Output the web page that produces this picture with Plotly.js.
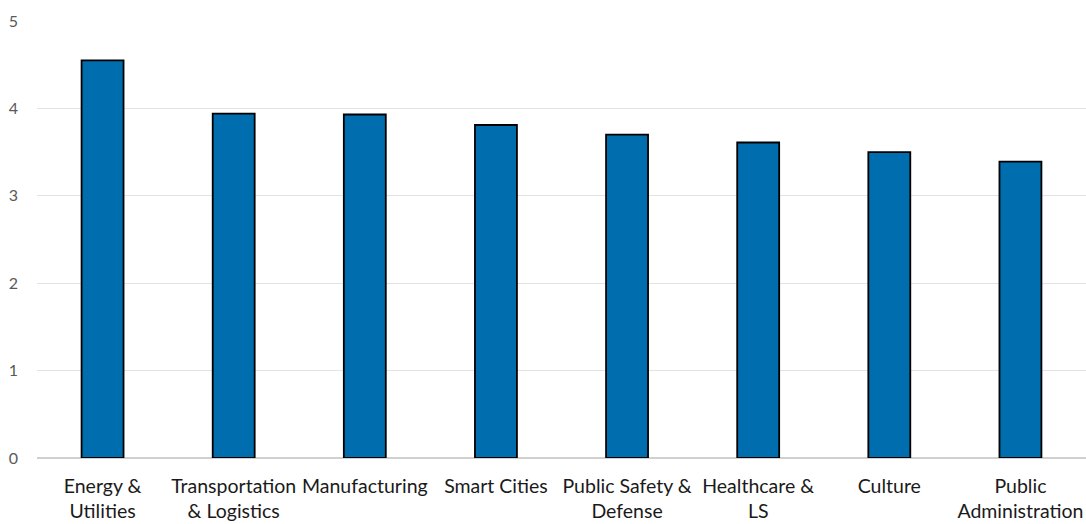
<!DOCTYPE html>
<html><head><meta charset="utf-8">
<script src="https://cdn.plot.ly/plotly-3.0.1.min.js"></script>
<style>html,body{margin:0;padding:0;background:#fff;}#chart{width:1086px;height:524px;}</style>
</head><body><div id="chart"></div>
<script>
const categories = ["Energy &<br>Utilities","Transportation<br>& Logistics","Manufacturing","Smart Cities","Public Safety &<br>Defense","Healthcare &<br>LS","Culture","Public<br>Administration"];
const values = [4.55, 3.94, 3.93, 3.81, 3.70, 3.61, 3.50, 3.39];
const yTicks = [0,1,2,3,4,5];

Plotly.newPlot('chart', [{
  type: 'bar', x: categories, y: values,
  marker: {color: '#006DAE', line: {color: '#000000', width: 1.8}},
  hoverinfo: 'none'
}], {
  width: 1086, height: 524,
  margin: {l: 37, r: 0, t: 21, b: 66, pad: 0},
  paper_bgcolor: '#fff', plot_bgcolor: '#fff',
  bargap: 0.68,
  showlegend: false,
  font: {family: 'Lato, "Open Sans", sans-serif'},
  xaxis: {tickfont: {size: 19.5, color: '#1a1a1a'}, showgrid: false, showline: false, ticks: '', zeroline: false,
    automargin: false, ticklabelstandoff: 14},
  yaxis: {range: [0, 5], tickvals: yTicks, ticktext: yTicks.map(String), automargin: false,
    tickfont: {size: 16, color: '#595959'}, showgrid: true, gridcolor: '#e3e3e3', gridwidth: 1.3,
    zeroline: true, zerolinecolor: '#d0d0d0', zerolinewidth: 1.5, showline: false, ticks: '', ticklabelstandoff: 18}
}, {staticPlot: true});
</script></body></html>
